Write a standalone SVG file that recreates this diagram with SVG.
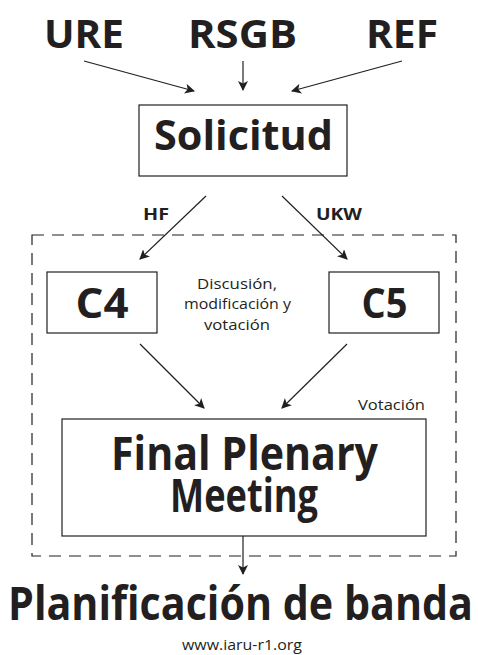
<svg xmlns="http://www.w3.org/2000/svg" width="478" height="655" viewBox="0 0 478 655">
<defs>
<marker id="ah" viewBox="0 0 10 10" refX="9" refY="5" markerWidth="10" markerHeight="10" markerUnits="userSpaceOnUse" orient="auto">
<path d="M0,0 L10,5 L0,10 L2.5,5 Z" fill="#231f20"/>
</marker>
<style>
.b{font-family:"Open Sans","Noto Sans","Liberation Sans",sans-serif;font-weight:700;fill:#231f20;text-anchor:middle}
.r{font-family:"Open Sans","Noto Sans","Liberation Sans",sans-serif;font-weight:400;fill:#231f20;text-anchor:middle}
.box{fill:#fff;stroke:#231f20;stroke-width:1.2}
.con{stroke:#231f20;stroke-width:1.2;fill:none;marker-end:url(#ah)}
</style>
</defs>
<rect width="478" height="655" fill="#fff"/>
<g id="group-dashed">
<rect x="32" y="235" width="424" height="321" fill="none" stroke="#231f20" stroke-width="1.2" stroke-dasharray="12,8"/>
</g>
<g id="connectors">
<line class="con" x1="84" y1="61" x2="194" y2="91"/>
<line class="con" x1="243" y1="61" x2="243" y2="90"/>
<line class="con" x1="402" y1="61" x2="292" y2="91"/>
<line class="con" x1="206" y1="196" x2="140" y2="259"/>
<line class="con" x1="282" y1="196" x2="347" y2="259"/>
<line class="con" x1="140" y1="344" x2="204" y2="408"/>
<line class="con" x1="347" y1="344" x2="282" y2="408"/>
<line class="con" x1="243" y1="536" x2="243" y2="574"/>
<text class="b" x="156" y="220" font-size="15.5" textLength="26" lengthAdjust="spacingAndGlyphs">HF</text>
<text class="b" x="339" y="220" font-size="15.5" textLength="46" lengthAdjust="spacingAndGlyphs">UKW</text>
</g>
<g id="node-ure"><text class="b" x="84" y="48" font-size="40" textLength="80" lengthAdjust="spacingAndGlyphs">URE</text></g>
<g id="node-rsgb"><text class="b" x="242.5" y="48" font-size="40" textLength="109" lengthAdjust="spacingAndGlyphs">RSGB</text></g>
<g id="node-ref"><text class="b" x="402" y="48" font-size="40" textLength="72" lengthAdjust="spacingAndGlyphs">REF</text></g>
<g id="node-solicitud">
<rect class="box" x="139" y="105" width="208" height="71"/>
<text class="b" x="243.5" y="150" font-size="42" textLength="179" lengthAdjust="spacingAndGlyphs">Solicitud</text>
</g>
<g id="node-c4">
<rect class="box" x="47" y="272" width="110" height="61"/>
<text class="b" x="102" y="318" font-size="41" textLength="53" lengthAdjust="spacingAndGlyphs">C4</text>
</g>
<g id="node-c5">
<rect class="box" x="329" y="272" width="110" height="61"/>
<text class="b" x="384.5" y="318" font-size="41" textLength="46" lengthAdjust="spacingAndGlyphs">C5</text>
</g>
<g id="label-discusion">
<text class="r" x="237" y="289" font-size="14.5" textLength="80" lengthAdjust="spacingAndGlyphs">Discusión,</text>
<text class="r" x="237.5" y="309" font-size="14.5" textLength="107" lengthAdjust="spacingAndGlyphs">modificación y</text>
<text class="r" x="237" y="330" font-size="14.5" textLength="66" lengthAdjust="spacingAndGlyphs">votación</text>
</g>
<g id="label-votacion">
<text class="r" x="391.5" y="410" font-size="14" textLength="67" lengthAdjust="spacingAndGlyphs">Votación</text>
</g>
<g id="node-fpm">
<rect class="box" x="62" y="419" width="364" height="117"/>
<text class="b" x="244.5" y="470" font-size="47" textLength="267" lengthAdjust="spacingAndGlyphs">Final Plenary</text>
<text class="b" x="244" y="512" font-size="47" textLength="148" lengthAdjust="spacingAndGlyphs">Meeting</text>
</g>
<g id="node-planificacion">
<text class="b" x="240.5" y="620" font-size="46" textLength="465" lengthAdjust="spacingAndGlyphs">Planificación de banda</text>
</g>
<g id="footer">
<text class="r" x="242" y="650" font-size="14" textLength="120" lengthAdjust="spacingAndGlyphs">www.iaru-r1.org</text>
</g>
</svg>
